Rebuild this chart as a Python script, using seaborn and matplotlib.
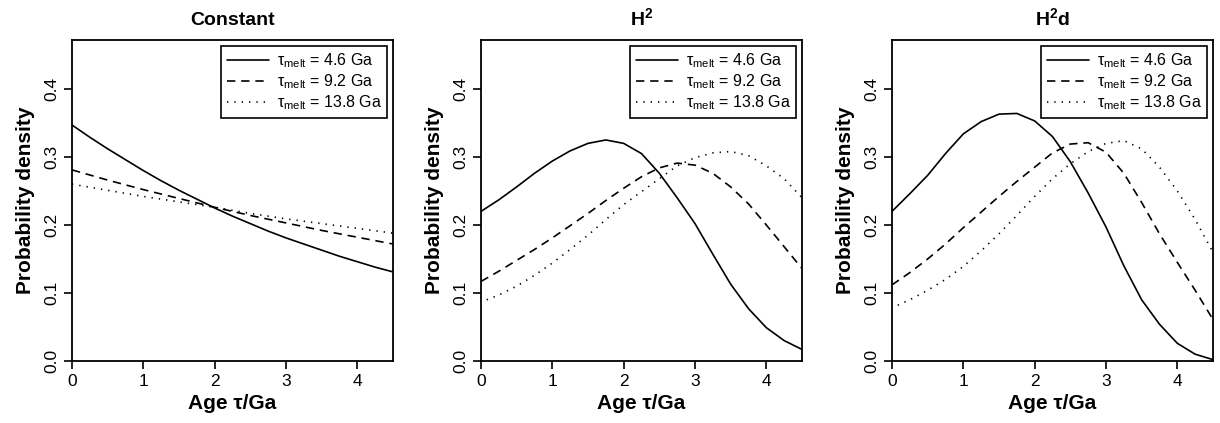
import matplotlib
matplotlib.use("Agg")
import matplotlib.pyplot as plt
import seaborn as sns
import pandas as pd

# panel titles and legend labels
titulos = [r"Constant", r"H$^{\mathbf{2}}$", r"H$^{\mathbf{2}}$d"]
etiquetas = [r"$\mathrm{\tau}_{\mathrm{melt}}$ = 4.6 Ga",
             r"$\mathrm{\tau}_{\mathrm{melt}}$ = 9.2 Ga",
             r"$\mathrm{\tau}_{\mathrm{melt}}$ = 13.8 Ga"]

# curvas (edad en Ga, densidad)
paso = [0, 0.25, 0.5, 0.75, 1, 1.25, 1.5, 1.75, 2, 2.25, 2.5, 2.75, 3, 3.25, 3.5, 3.75, 4, 4.25, 4.5]
paso_dot = [0.08, 0.25, 0.5, 0.75, 1, 1.25, 1.5, 1.75, 2, 2.25, 2.5, 2.75, 3, 3.25, 3.5, 3.75, 4, 4.25, 4.5]
const_x = [0, 0.5, 1, 1.5, 2, 2.5, 3, 3.5, 4, 4.5]

const_46 = [0.347, 0.329, 0.312, 0.296, 0.280, 0.265, 0.251, 0.238, 0.225, 0.213,
            0.202, 0.191, 0.181, 0.172, 0.163, 0.154, 0.146, 0.138, 0.131]
const_92 = [0.281, 0.266, 0.252, 0.239, 0.226, 0.214, 0.203, 0.192, 0.182, 0.172]
const_138 = [0.260, 0.251, 0.242, 0.234, 0.226, 0.217, 0.209, 0.202, 0.195, 0.188]

h2_46 = [0.220, 0.237, 0.256, 0.276, 0.294, 0.309, 0.320, 0.325, 0.320, 0.305,
         0.276, 0.240, 0.202, 0.157, 0.113, 0.077, 0.049, 0.030, 0.017]
h2_92 = [0.117, 0.132, 0.148, 0.164, 0.181, 0.199, 0.217, 0.236, 0.254, 0.271,
         0.284, 0.291, 0.288, 0.276, 0.256, 0.231, 0.200, 0.168, 0.136]
h2_138 = [0.090, 0.097, 0.110, 0.126, 0.144, 0.164, 0.185, 0.208, 0.230, 0.249,
          0.268, 0.287, 0.299, 0.306, 0.308, 0.302, 0.287, 0.268, 0.240]

h2d_46 = [0.220, 0.246, 0.273, 0.305, 0.334, 0.352, 0.363, 0.364, 0.353, 0.330,
          0.293, 0.247, 0.197, 0.140, 0.090, 0.054, 0.026, 0.010, 0.002]
h2d_92 = [0.112, 0.130, 0.150, 0.172, 0.196, 0.219, 0.242, 0.264, 0.285, 0.306,
          0.319, 0.321, 0.307, 0.276, 0.233, 0.187, 0.145, 0.104, 0.061]
h2d_138 = [0.082, 0.090, 0.104, 0.120, 0.139, 0.162, 0.187, 0.214, 0.242, 0.268,
           0.290, 0.308, 0.320, 0.324, 0.312, 0.285, 0.250, 0.208, 0.160]

paneles = [
    [(paso, const_46), (const_x, const_92), (const_x, const_138)],
    [(paso, h2_46), (paso, h2_92), (paso_dot, h2_138)],
    [(paso, h2d_46), (paso, h2d_92), (paso_dot, h2d_138)],
]

sns.set_style("ticks")
plt.rcParams['font.family'] = ['Liberation Sans', 'DejaVu Sans']
plt.rcParams['mathtext.fontset'] = 'custom'
plt.rcParams['mathtext.rm'] = 'Liberation Sans'
plt.rcParams['mathtext.it'] = 'Liberation Sans:italic'
plt.rcParams['mathtext.bf'] = 'Liberation Sans:bold'
for k in ['text.color', 'axes.labelcolor', 'xtick.color', 'ytick.color', 'axes.edgecolor']:
    plt.rcParams[k] = 'black'

estilos = ['-', (0, (5, 3.5)), (0, (0.8, 3.6))]

fig = plt.figure(figsize=(12.2, 4.23), dpi=100)
lefts = [72, 481, 892]
for i, left in enumerate(lefts):
    ax = fig.add_axes([left / 1220, 62 / 423, 321 / 1220, 321 / 423])
    for (xs, ys), ls, lab in zip(paneles[i], estilos, etiquetas):
        df = pd.DataFrame({"edad": xs, "dens": ys})
        sns.lineplot(data=df, x="edad", y="dens", ax=ax, color='black',
                     linestyle=ls, linewidth=1.2, label=lab)
    ax.set_xlim(0, 4.5)
    ax.set_ylim(0, 0.472)
    ax.set_xticks([0, 1, 2, 3, 4])
    ax.set_yticks([0, 0.1, 0.2, 0.3, 0.4])
    ax.set_yticklabels(["0.0", "0.1", "0.2", "0.3", "0.4"], rotation=90, va='center')
    ax.tick_params(axis='both', direction='out', length=6, width=1.2, labelsize=12.5, color='black')
    ax.tick_params(axis='x', pad=3)
    ax.tick_params(axis='y', pad=3)
    for s in ax.spines.values():
        s.set_visible(True)
        s.set_linewidth(1.3)
        s.set_color('black')
    ax.set_xlabel("Age τ/Ga", fontsize=15, fontweight='bold', labelpad=4)
    ax.set_ylabel("Probability density", fontsize=15, fontweight='bold', labelpad=7)
    ax.set_title(titulos[i], fontsize=14, fontweight='bold', pad=11)
    leg = ax.legend(loc='upper right', fontsize=11.5, frameon=True, fancybox=False,
                    edgecolor='black', framealpha=1, handlelength=2.6,
                    handletextpad=0.5, borderpad=0.35, labelspacing=0.15,
                    borderaxespad=0.35)
    leg.get_frame().set_linewidth(1.2)

fig.savefig("out.png", dpi=100)
